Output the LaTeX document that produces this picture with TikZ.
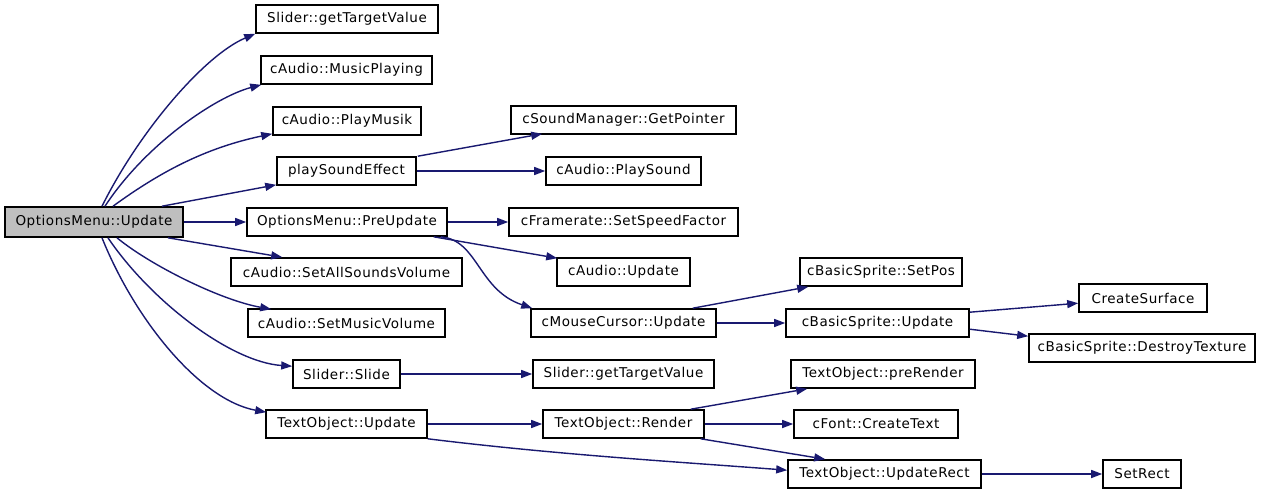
\documentclass[tikz,border=0pt]{standalone}
\usepackage{fontspec}
\setmainfont[LetterSpace=4]{DejaVu Sans}
\usetikzlibrary{arrows.meta}
\definecolor{edgecol}{HTML}{191970}
\definecolor{rootfill}{HTML}{BFBFBF}
\tikzset{
  fn/.style={draw=black, line width=1.6pt, fill=white, inner sep=0pt, minimum height=28pt,
    font=\fontsize{13.5}{15}\selectfont, text=black},
  rootfn/.style={fn, fill=rootfill, minimum height=30pt},
  call/.style={draw=edgecol, line width=1.4pt, -{Triangle[length=11pt,width=8pt]}},
}
\begin{document}
\begin{tikzpicture}[x=1pt,y=-1pt]
\useasboundingbox[fill=white] (0,0) rectangle (1261,493);
% nodes
\node[rootfn, minimum width=178pt] (n1) at (94,222) {OptionsMenu::Update};
\node[fn, minimum width=182pt] (n2) at (347,19) {Slider::getTargetValue};
\node[fn, minimum width=171pt] (n3) at (346.5,70) {cAudio::MusicPlaying};
\node[fn, minimum width=148pt] (n4) at (347,121) {cAudio::PlayMusik};
\node[fn, minimum width=139pt] (n5) at (346.5,171) {playSoundEffect};
\node[fn, minimum width=200pt] (n6) at (347,222) {OptionsMenu::PreUpdate};
\node[fn, minimum width=231pt] (n7) at (346.5,272) {cAudio::SetAllSoundsVolume};
\node[fn, minimum width=197pt] (n8) at (346.5,323) {cAudio::SetMusicVolume};
\node[fn, minimum width=107pt] (n9) at (346.5,374) {Slider::Slide};
\node[fn, minimum width=161pt] (n10) at (346.5,424) {TextObject::Update};
\node[fn, minimum width=225pt] (n11) at (623.5,120) {cSoundManager::GetPointer};
\node[fn, minimum width=155pt] (n12) at (623.5,171) {cAudio::PlaySound};
\node[fn, minimum width=229pt] (n13) at (623.5,222) {cFramerate::SetSpeedFactor};
\node[fn, minimum width=133pt] (n14) at (623.5,272) {cAudio::Update};
\node[fn, minimum width=185pt] (n15) at (623.5,323) {cMouseCursor::Update};
\node[fn, minimum width=181pt] (n16) at (623.5,374) {Slider::getTargetValue};
\node[fn, minimum width=161pt] (n17) at (623.5,424) {TextObject::Render};
\node[fn, minimum width=162pt] (n18) at (881,272) {cBasicSprite::SetPos};
\node[fn, minimum width=183pt] (n19) at (877.5,323) {cBasicSprite::Update};
\node[fn, minimum width=184pt] (n20) at (883,374) {TextObject::preRender};
\node[fn, minimum width=164pt] (n21) at (876,424) {cFont::CreateText};
\node[fn, minimum width=193pt] (n22) at (884.5,474) {TextObject::UpdateRect};
\node[fn, minimum width=128pt] (n23) at (1143,298) {CreateSurface};
\node[fn, minimum width=226pt] (n24) at (1142,348) {cBasicSprite::DestroyTexture};
\node[fn, minimum width=78pt] (n25) at (1142,474) {SetRect};
% edges from root
\draw[call] ([xshift=8pt]n1.north) .. controls (140,130) and (205,55) .. (n2.south west);
\draw[call] ([xshift=11pt]n1.north) .. controls (145,145) and (215,97) .. ([xshift=1pt]n3.south west);
\draw[call] ([xshift=19pt]n1.north) .. controls (160,172) and (205,148) .. ([yshift=2pt]n4.south west);
\draw[call] ([xshift=68pt]n1.north) -- ([yshift=1pt]n5.south west);
\draw[call] (n1.east) -- (n6.west);
\draw[call] ([xshift=74pt]n1.south) -- ([xshift=52pt]n7.north west);
\draw[call] ([xshift=23pt]n1.south) .. controls (150,265) and (220,300) .. ([xshift=24pt,yshift=-1pt]n8.north west);
\draw[call] ([xshift=14pt]n1.south) .. controls (150,300) and (230,362) .. ([yshift=-7pt]n9.north west);
\draw[call] ([xshift=8pt]n1.south) .. controls (135,320) and (200,400) .. ([xshift=1pt,yshift=-3pt]n10.north west);
% second level
\draw[call] ([xshift=1pt]n5.north east) -- ([xshift=32pt,yshift=1pt]n11.south west);
\draw[call] (n5.east) -- (n12.west);
\draw[call] (n6.east) -- (n13.west);
\draw[call] ([xshift=-14pt]n6.south east) -- ([xshift=1pt,yshift=-1pt]n14.north west);
\draw[call] ([xshift=-7pt]n6.south east) .. controls (478,240) and (478,290) .. ([xshift=2pt]n15.north west);
\draw[call] (n9.east) -- (n16.west);
\draw[call] (n10.east) -- (n17.west);
\draw[call] (n10.south east) .. controls (560,455) and (680,462) .. ([yshift=-11pt]n22.north west);
% third level
\draw[call] ([xshift=-24pt]n15.north east) -- ([xshift=9pt]n18.south west);
\draw[call] (n15.east) -- (n19.west);
\draw[call] ([xshift=-14pt]n17.north east) -- ([xshift=17pt]n20.south west);
\draw[call] (n17.east) -- (n21.west);
\draw[call] ([xshift=-4pt]n17.south east) -- ([xshift=38pt]n22.north west);
% fourth level
\draw[call] ([yshift=-4pt]n19.north east) -- ([yshift=-20pt]n23.north west);
\draw[call] ([yshift=-21pt]n19.north east) -- ([yshift=-3pt]n24.north west);
\draw[call] (n22.east) -- (n25.west);
\end{tikzpicture}
\end{document}
